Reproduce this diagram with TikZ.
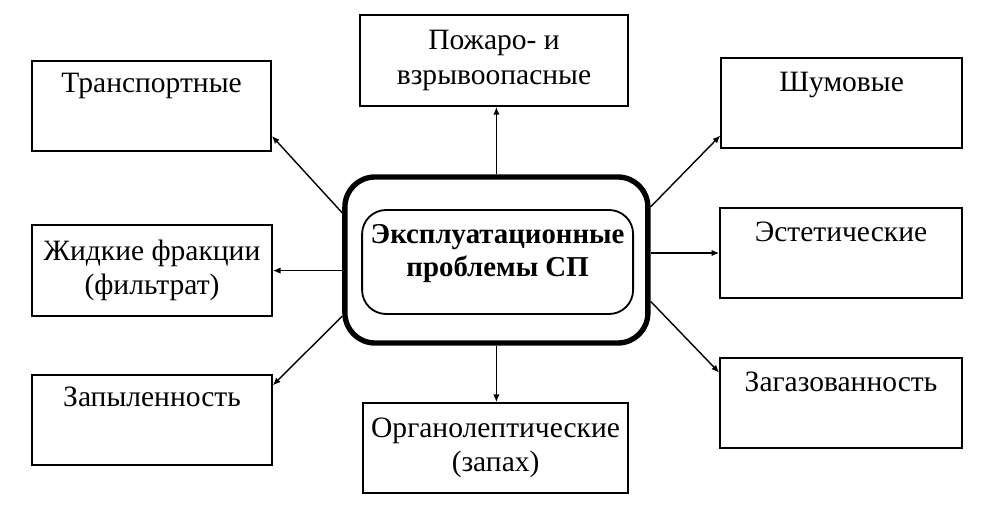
\documentclass[tikz,border=0pt]{standalone}
\usepackage{fontspec}
\setmainfont{Liberation Serif}
\usetikzlibrary{positioning, arrows.meta}

\begin{document}
\begin{tikzpicture}[
  box/.style = {draw, line width=1.1pt, minimum width=6cm, minimum height=2.25cm, inner sep=0pt, align=center, font=\fontsize{21}{24.5}\selectfont},
  lbl/.style = {inner sep=0pt, font=\fontsize{21}{24.5}\selectfont},
  arr/.style = {line width=1pt, -{Latex[length=5.5pt,width=4.5pt]}}
]
\useasboundingbox (0,0) rectangle (24.7,12.775);

%Center
\node[draw, line width=3.8pt, rounded corners=0.75cm, minimum width=7.575cm, minimum height=4.15cm] (cen) at (12.41,6.275) {};
\node[draw, line width=1.3pt, rounded corners=0.6cm, minimum width=6.775cm, minimum height=2.6cm] (inner) at (12.44,6.225) {};
\node[lbl, align=center, font=\fontsize{20.5}{23.5}\selectfont\bfseries] (cenT) at (12.44,6.44) {Эксплуатационные\\проблемы СП};

%Boxes
\node[box, minimum width=5.975cm] (transp) at (3.79,10.125) {};
\node[lbl, below=9pt of transp.north] (transpT) {Транспортные};
\node[box, minimum width=6.7cm, minimum height=2.275cm] (pozhar) at (12.35,11.26) {Пожаро- и\\взрывоопасные};
\node[box, minimum width=6.025cm] (shum) at (21.04,10.2) {};
\node[lbl, below=10.5pt of shum.north] (shumT) {Шумовые};
\node[box, minimum height=2.275cm] (zhid) at (3.8,6.01) {Жидкие фракции\\(фильтрат)};
\node[box, minimum width=6.05cm] (estet) at (21.025,6.45) {};
\node[lbl, below=10pt of estet.north] (estetT) {Эстетические};
\node[box] (zapyl) at (3.8,2.275) {};
\node[lbl, below=9pt of zapyl.north] (zapylT) {Запыленность};
\node[box, minimum width=6.625cm] (organ) at (12.39,1.575) {Органолептические\\(запах)};
\node[box, minimum width=6.05cm] (zagaz) at (21.025,2.7) {};
\node[lbl, below=10pt of zagaz.north] (zagazT) {Загазованность};

%Arrows
\draw[arr] (cen.163.5) -- (transp.-14.5);
\draw[arr] (cen.north) -- (cen.north |- pozhar.south);
\draw[arr] (cen.19.3) -- (shum.-165.1);
\draw[arr] (cen.west |- zhid.east) -- (zhid.east);
\draw[arr] (cen.east |- estet.west) -- (estet.west);
\draw[arr] (cen.200.6) -- (zapyl.16.3);
\draw[arr] (cen.south) -- (cen.south |- organ.north);
\draw[arr] (cen.-15.5) -- (zagaz.166.1);
\end{tikzpicture}
\end{document}
